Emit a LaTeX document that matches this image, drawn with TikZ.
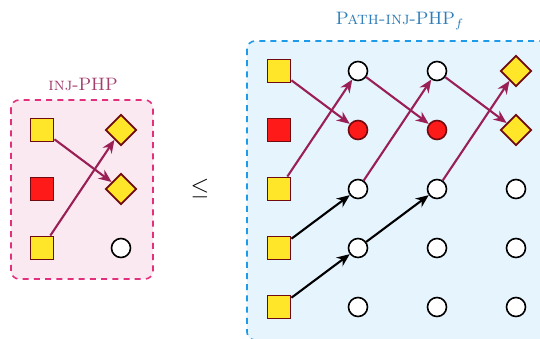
\documentclass[tikz,border=0pt]{standalone}
\usetikzlibrary{shapes.geometric,arrows.meta}
\definecolor{yel}{HTML}{FFE629}
\definecolor{edge}{HTML}{6E0A10}
\definecolor{redf}{HTML}{FF1A1A}
\definecolor{arr}{HTML}{9A1F55}
\definecolor{pinkfill}{HTML}{FBE9F1}
\definecolor{pinkline}{HTML}{E2307C}
\definecolor{pinktext}{HTML}{A23E6C}
\definecolor{bluefill}{HTML}{E6F4FE}
\definecolor{blueline}{HTML}{1E9BE8}
\definecolor{bluetext}{HTML}{2E7DB8}
\begin{document}
\begin{tikzpicture}[x=0.5pt,y=-0.5pt,
  sq/.style={draw=edge,line width=0.95pt,rectangle,minimum size=11.5pt,inner sep=0pt},
  pig/.style={sq,fill=yel},
  redsq/.style={sq,fill=redf},
  hole/.style={draw=edge,line width=0.9pt,diamond,aspect=1,minimum size=15.5pt,inner sep=0pt,fill=yel},
  dot/.style={draw=black,line width=0.8pt,circle,minimum size=9.5pt,inner sep=0pt,fill=white},
  reddot/.style={dot,draw=edge,fill=redf},
  marr/.style={draw=arr,line width=1.05pt,-{Stealth[length=6.5pt,width=5.4pt]}},
  barr/.style={draw=black,line width=1.05pt,-{Stealth[length=6.5pt,width=5.4pt]}},
  frame/.style={dashed,dash pattern=on 3pt off 2.6pt,line width=0.8pt,rounded corners=4pt}
]
\useasboundingbox (0,0) rectangle (540,338);
\begin{scope}
\clip (0,0) rectangle (540,338);
% left frame
\draw[frame,draw=pinkline,fill=pinkfill] (11,100) rectangle (153,279);
% right frame (runs off the page)
\draw[frame,draw=blueline,fill=bluefill] (247,41) rectangle (560,340);
\end{scope}

\node[text=pinktext,font=\fontsize{9}{10}\selectfont] (ltitle) at (83,84) {\textsc{inj}-PHP};
\node[text=bluetext,font=\fontsize{9}{10}\selectfont] (rtitle) at (400,21) {\textsc{Path-inj}-PHP$_f$};
\node[font=\fontsize{12}{14}\selectfont] (leq) at (200,188) {$\leq$};

% left instance
\node[pig] (a1) at (42,130) {};
\node[redsq] (a2) at (42,189) {};
\node[pig] (a3) at (42,248) {};
\node[hole] (b1) at (121,130) {};
\node[hole] (b2) at (121,189) {};
\node[dot] (b3) at (121,248) {};
\draw[marr] (a1) -- (b2);
\draw[marr] (a3) -- (b1);

% right instance: column 0 squares
\node[pig] (p1) at (279,71) {};
\node[redsq] (p2) at (279,130) {};
\node[pig] (p3) at (279,189) {};
\node[pig] (p4) at (279,248) {};
\node[pig] (p5) at (279,307) {};
% column 1
\node[dot] (u1) at (358,71) {};
\node[reddot] (u2) at (358,130) {};
\node[dot] (u3) at (358,189) {};
\node[dot] (u4) at (358,248) {};
\node[dot] (u5) at (358,307) {};
% column 2
\node[dot] (v1) at (437,71) {};
\node[reddot] (v2) at (437,130) {};
\node[dot] (v3) at (437,189) {};
\node[dot] (v4) at (437,248) {};
\node[dot] (v5) at (437,307) {};
% column 3
\node[hole] (w1) at (516,71) {};
\node[hole] (w2) at (516,130) {};
\node[dot] (w3) at (516,189) {};
\node[dot] (w4) at (516,248) {};
\node[dot] (w5) at (516,307) {};

\draw[marr] (p1) -- (u2);
\draw[marr] (p3) -- (u1);
\draw[marr] (u1) -- (v2);
\draw[marr] (u3) -- (v1);
\draw[marr] (v1) -- (w2);
\draw[marr] (v3) -- (w1);
\draw[barr] (p4) -- (u3);
\draw[barr] (p5) -- (u4);
\draw[barr] (u4) -- (v3);
\end{tikzpicture}
\end{document}
